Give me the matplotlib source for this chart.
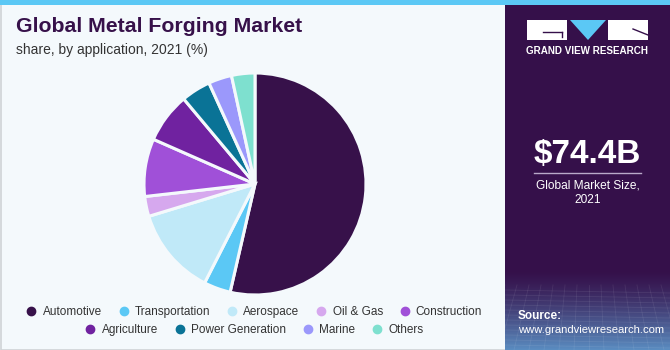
import numpy as np
import matplotlib.pyplot as plt
from matplotlib.patches import Rectangle, Polygon
from matplotlib.lines import Line2D

# market share by application, 2021 (%)
apps = ["Automotive", "Transportation", "Aerospace", "Oil & Gas", "Construction",
        "Agriculture", "Power Generation", "Marine", "Others"]
shares = [53.6, 3.9, 12.8, 2.9, 8.4, 7.3, 4.3, 3.4, 3.4]
colors = ["#37114a", "#5bc8f5", "#c0e9f8", "#d6a8ee", "#a050d8",
          "#7022a0", "#0a7396", "#9b98fb", "#7ee0cf"]

market_size = "$74.4B"
market_label = "Global Market Size,\n2021"

plt.rcParams["font.family"] = ["Liberation Sans", "DejaVu Sans"]

W, H = 670, 350
fig = plt.figure(figsize=(W / 100, H / 100), dpi=100)
fig.patch.set_facecolor("#f4f9fc")

# full-figure overlay in pixel coordinates (y downwards)
bg = fig.add_axes([0, 0, 1, 1])
bg.set_xlim(0, W)
bg.set_ylim(H, 0)
bg.axis("off")
bg.add_patch(Rectangle((0.5, 0), W - 1, H - 0.5, fill=False, ec="#cfd3d6", lw=1.2))
bg.add_patch(Rectangle((0, 0), W, 5, color="#5bc8f5", lw=0))

# right panel
px0 = 505
bg.add_patch(Rectangle((px0, 5), W - px0, H - 5, color="#35104a", lw=0))
grad = np.linspace(0, 1, 80)[:, None]
c0 = np.array([0x35, 0x10, 0x4a]) / 255
c1 = np.array([0x5a, 0x8c, 0xc0]) / 255
img = c0 + (c1 - c0) * grad[..., None] ** 1.3
bg.imshow(img, extent=(px0, W, H, H - 80), aspect="auto", zorder=1)
for k in range(12):
    yy = H - 60 + k * 5
    bg.plot([px0, W], [yy, yy + 3], color="white", alpha=0.08, lw=0.6, zorder=2)
for k in range(14):
    xx = px0 + k * 12
    bg.plot([xx, xx + (k - 7) * 3], [H - 65, H], color="white", alpha=0.08, lw=0.6, zorder=2)

# logo
bg.add_patch(Rectangle((527, 20), 40, 20, color="white", lw=0, zorder=3))
bg.add_patch(Polygon([(570, 20), (606, 20), (588, 40)], closed=True, color="#5bc8f5", lw=0, zorder=3))
bg.add_patch(Rectangle((608, 20), 40, 20, color="white", lw=0, zorder=3))
bg.plot([543, 562], [32, 32], color="#35104a", lw=1, zorder=4)
bg.plot([562, 562], [32, 37], color="#35104a", lw=1, zorder=4)
bg.plot([633, 648], [29, 35], color="#35104a", lw=1, zorder=4)
bg.text(587.5, 51, "GRAND VIEW RESEARCH", color="white", fontsize=7.1, fontweight="bold",
        ha="center", va="center", zorder=4)

bg.text(587.5, 155, market_size, color="white", fontsize=24, fontweight="bold",
        ha="center", va="center", zorder=4)
bg.plot([534, 641], [173, 173], color="#b9a9c9", lw=1, zorder=4)
bg.text(587.5, 193, market_label, color="white", fontsize=8.6,
        ha="center", va="center", linespacing=1.3, zorder=4)
bg.text(518, 316, "Source:", color="white", fontsize=8.5, fontweight="bold",
        ha="left", va="center", zorder=4)
bg.text(518, 330, "www.grandviewresearch.com", color="white", fontsize=8.1,
        ha="left", va="center", zorder=4)

# titles
bg.text(16, 27, "Global Metal Forging Market", color="#37114a", fontsize=15.3,
        fontweight="bold", ha="left", va="center")
bg.text(16, 50, "share, by application, 2021 (%)", color="#333333", fontsize=10,
        ha="left", va="center")

# pie
cx, cy, r = 255, 184, 111
ax = fig.add_axes([(cx - r) / W, (H - cy - r) / H, 2 * r / W, 2 * r / H])
ax.pie(shares, colors=colors, startangle=90, counterclock=False,
       wedgeprops=dict(edgecolor="#f4f9fc", linewidth=2.2))
ax.set_xlim(-1, 1)
ax.set_ylim(-1, 1)
ax.set_aspect("auto")
ax.axis("off")

# legend in two centered rows
handles = [Line2D([], [], marker="o", ls="", ms=6, mfc=c, mec=c) for c in colors]
legkw = dict(loc="center", frameon=False, handletextpad=0.3, columnspacing=1.2,
             handlelength=1.3, prop=dict(size=8.5))
fig.legend(handles[:5], apps[:5], bbox_to_anchor=(253 / W, 1 - 312 / H), ncol=5, **legkw)
fig.legend(handles[5:], apps[5:], bbox_to_anchor=(253 / W, 1 - 330 / H), ncol=4, **legkw)
for lg in fig.legends:
    for t in lg.get_texts():
        t.set_color("#333333")

fig.savefig("out.png", dpi=100, facecolor=fig.get_facecolor())
